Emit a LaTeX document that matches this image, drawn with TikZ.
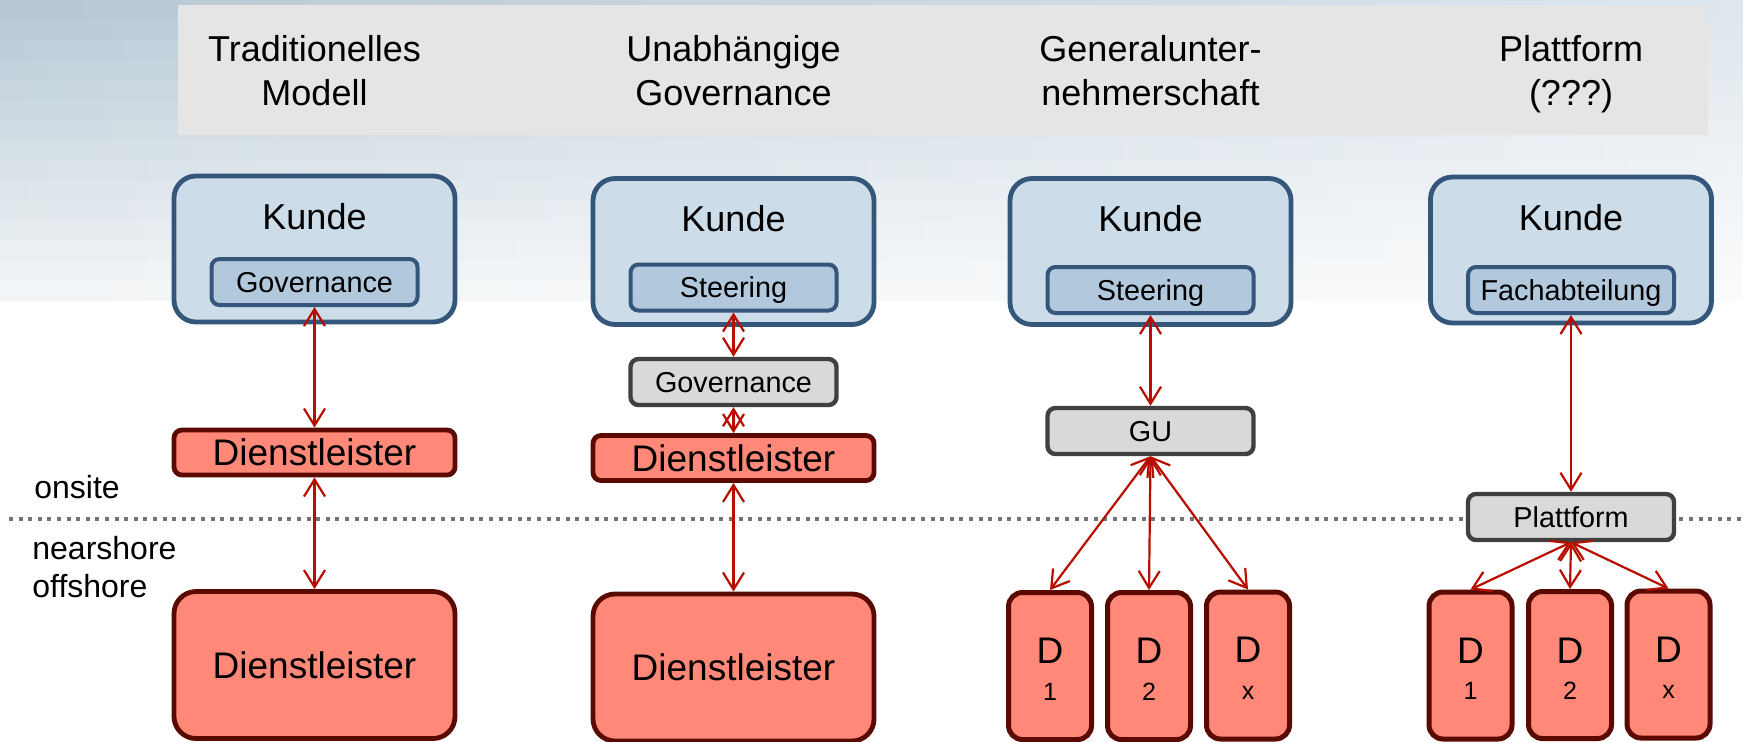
\documentclass[tikz,border=0pt]{standalone}
\usepackage{fontspec}
\setmainfont{Liberation Sans}
\usetikzlibrary{arrows.meta}
\definecolor{hdr}{HTML}{E5E5E5}
\definecolor{kfill}{HTML}{CCDCE8}
\definecolor{kborder}{HTML}{34567A}
\definecolor{ifill}{HTML}{B2C8DD}
\definecolor{dfill}{HTML}{FF8878}
\definecolor{dborder}{HTML}{5A0A00}
\definecolor{gfill}{HTML}{D9D9D9}
\definecolor{gborder}{HTML}{404040}
\definecolor{arrowred}{HTML}{B80E00}
\definecolor{dotgray}{HTML}{737373}
\definecolor{bgTL}{HTML}{B6C8D4}
\definecolor{bgTR}{HTML}{DEE7ED}
\definecolor{bgBL}{HTML}{F2F5F7}
\definecolor{bgBR}{HTML}{FAFBFC}
\begin{document}
\begin{tikzpicture}[x=0.5pt,y=-0.5pt,
  kundebox/.style={draw=kborder, fill=kfill, line width=2.4pt, rounded corners=11pt,
    minimum width=140.5pt, minimum height=73pt, inner sep=0pt},
  innerbox/.style={draw=kborder, fill=ifill, line width=2pt, rounded corners=4pt,
    minimum width=103pt, minimum height=23pt, inner sep=0pt,
    font=\fontsize{14.4}{17}\selectfont, text height=10.3pt, text depth=0pt},
  graybox/.style={draw=gborder, fill=gfill, line width=2.2pt, rounded corners=4pt,
    minimum width=103pt, minimum height=23pt, inner sep=0pt,
    font=\fontsize{14.4}{17}\selectfont, text height=10.3pt, text depth=0pt},
  dsbox/.style={draw=dborder, fill=dfill, line width=2.4pt, rounded corners=4pt,
    minimum width=140.5pt, minimum height=22.5pt, inner sep=0pt,
    font=\fontsize{18.5}{22}\selectfont, text height=13.2pt, text depth=0pt},
  dbig/.style={draw=dborder, fill=dfill, line width=2.4pt, rounded corners=11pt,
    minimum width=140.5pt, minimum height=73.5pt, inner sep=0pt,
    font=\fontsize{18.5}{22}\selectfont, text height=13.2pt, text depth=0pt},
  dsmall/.style={draw=dborder, fill=dfill, line width=2.5pt, rounded corners=7pt,
    minimum width=41.5pt, minimum height=73.5pt, inner sep=0pt},
  kundetext/.style={anchor=base, font=\fontsize{18}{22}\selectfont, inner sep=0pt},
  dletter/.style={anchor=base, font=\fontsize{18.5}{22}\selectfont, inner sep=0pt},
  dnum/.style={anchor=base, font=\fontsize{12.5}{15}\selectfont, inner sep=0pt},
  headtext/.style={align=center, font=\fontsize{18}{22}\selectfont, inner sep=0pt, text depth=0pt},
  sidetext/.style={anchor=base west, font=\fontsize{16}{19}\selectfont, inner sep=0pt},
  conn/.style={draw=arrowred, line width=1.1pt,
    {Straight Barb[length=8.5pt,width=10.5pt]}-{Straight Barb[length=8.5pt,width=10.5pt]}}
]
\useasboundingbox (0,0) rectangle (1743,741);
\fill[white] (0,0) rectangle (1743,741);
% background gradient
\foreach \i in {0,...,14}{
  \pgfmathtruncatemacro\p{100-\i*100/14}
  \fill[left color=bgTL!\p!bgBL, right color=bgTR!\p!bgBR] (0,\i*20) rectangle (1743,\i*20+20.5);
}
% header band
\fill[hdr] (178,5) rectangle (1708,135);
\node[headtext] (h1) at (314.5,70) {Traditionelles\\Modell};
\node[headtext] (h2) at (733.5,70) {Unabhängige\\Governance};
\node[headtext] (h3) at (1150.5,70) {Generalunter-\\nehmerschaft};
\node[headtext] (h4) at (1571,70) {Plattform\\(???)};
% dotted separator
\coordinate (sepL) at (9,519);
\coordinate (sepR) at (1743,519);
\draw[dotgray, line width=2pt, dash pattern=on 2pt off 2.8pt] (sepL) -- (sepR);
\node[sidetext] (onsite) at (34,498) {onsite};
\node[sidetext] (near) at (32,559) {nearshore};
\node[sidetext] (off) at (32,597) {offshore};
% column 1
\node[kundebox] (k1) at (314.5,249) {};
\node[kundetext] (k1t) at (314.5,229) {Kunde};
\node[innerbox] (g1) at (314.5,282) {Governance};
\node[dsbox] (ds1) at (314.5,452.5) {Dienstleister};
\node[dbig] (db1) at (314.5,665) {Dienstleister};
% column 2
\node[kundebox] (k2) at (733.5,251.5) {};
\node[kundetext] (k2t) at (733.5,231.5) {Kunde};
\node[innerbox] (s2) at (733.5,287.5) {Steering};
\node[graybox] (gov2) at (733.5,382) {Governance};
\node[dsbox] (ds2) at (733.5,458) {Dienstleister};
\node[dbig] (db2) at (733.5,667.5) {Dienstleister};
% column 3
\node[kundebox] (k3) at (1150.5,251.5) {};
\node[kundetext] (k3t) at (1150.5,231.5) {Kunde};
\node[innerbox] (s3) at (1150.5,290) {Steering};
\node[graybox] (gu) at (1150.5,431) {GU};
\node[dsmall] (c3d1) at (1050,666) {};
\node[dsmall] (c3d2) at (1149,666) {};
\node[dsmall] (c3dx) at (1248,665.5) {};
\node[dletter] (c3d1a) at (1050,663) {D};
\node[dnum] (c3d1b) at (1050,700) {1};
\node[dletter] (c3d2a) at (1149,663) {D};
\node[dnum] (c3d2b) at (1149,700) {2};
\node[dletter] (c3dxa) at (1248,662) {D};
\node[dnum] (c3dxb) at (1248,699) {x};
% column 4
\node[kundebox] (k4) at (1571,250) {};
\node[kundetext] (k4t) at (1571,230) {Kunde};
\node[innerbox] (f4) at (1571,290) {Fachabteilung};
\node[graybox] (p4) at (1571,517) {Plattform};
\node[dsmall] (c4d1) at (1470.5,665.5) {};
\node[dsmall] (c4d2) at (1570,665) {};
\node[dsmall] (c4dx) at (1668.5,664.5) {};
\node[dletter] (c4d1a) at (1470.5,663) {D};
\node[dnum] (c4d1b) at (1470.5,699) {1};
\node[dletter] (c4d2a) at (1570,663) {D};
\node[dnum] (c4d2b) at (1570,699) {2};
\node[dletter] (c4dxa) at (1668.5,662) {D};
\node[dnum] (c4dxb) at (1668.5,698) {x};
% connectors
\draw[conn] (g1.south) -- (ds1.north);
\draw[conn] (ds1.south) -- (db1.north);
\draw[conn] (s2.south) -- (gov2.north);
\draw[conn] (gov2.south) -- (ds2.north);
\draw[conn] (ds2.south) -- (db2.north);
\draw[conn] (s3.south) -- (gu.north);
\draw[conn] (gu.south) -- (c3d1.north);
\draw[conn] (gu.south) -- (c3d2.north);
\draw[conn] (gu.south) -- (c3dx.north);
\draw[conn] (f4.south) -- (p4.north);
\draw[conn] (p4.south) -- (c4d1.north);
\draw[conn] (p4.south) -- (c4d2.north);
\draw[conn] (p4.south) -- (c4dx.north);
\end{tikzpicture}
\end{document}
